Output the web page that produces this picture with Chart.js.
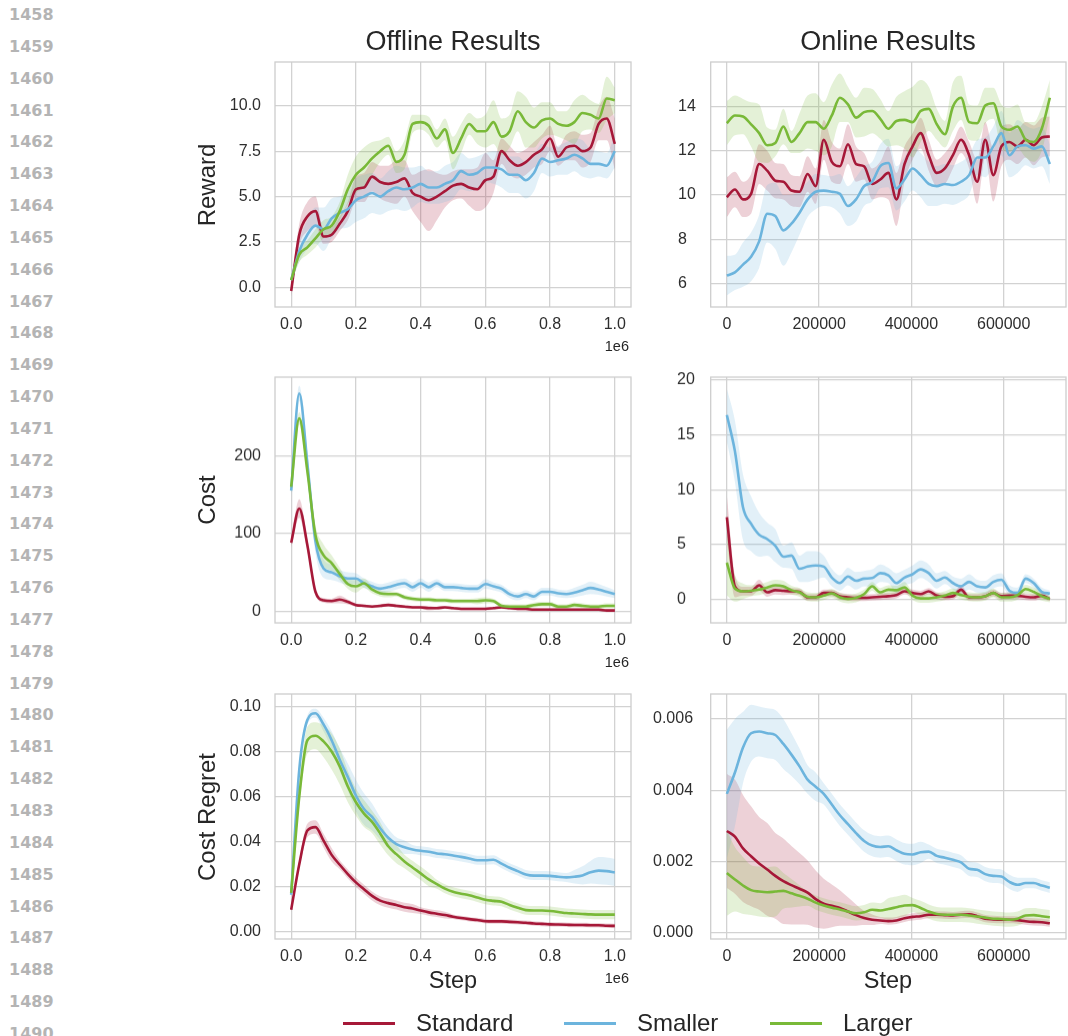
<!DOCTYPE html>
<html><head><meta charset="utf-8">
<script src="https://cdn.jsdelivr.net/npm/chart.js@4.4.1/dist/chart.umd.min.js"></script>
<style>
html,body{margin:0;padding:0;background:#fff;}
body{width:1068px;height:1036px;position:relative;overflow:hidden;font-family:"Liberation Sans",Arial,sans-serif;color:#262626;}
.t{position:absolute;white-space:nowrap;}
.ln{position:absolute;left:9px;font-family:"DejaVu Sans",sans-serif;font-weight:bold;font-size:16px;line-height:16px;color:#b4b4b4;}
canvas{position:absolute;}
</style></head><body>
<script>
// ---------------- DATA ----------------
const seriesNames = ['Standard', 'Smaller', 'Larger'];
const lineNumbers = [1458,1459,1460,1461,1462,1463,1464,1465,1466,1467,1468,1469,1470,1471,1472,1473,1474,1475,1476,1477,1478,1479,1480,1481,1482,1483,1484,1485,1486,1487,1488,1489,1490];

const offlineSteps = [0,25000,50000,75000,100000,125000,150000,175000,200000,225000,
  250000,275000,300000,325000,350000,375000,400000,425000,450000,475000,
  500000,525000,550000,575000,600000,625000,650000,675000,700000,725000,
  750000,775000,800000,825000,850000,875000,900000,925000,950000,975000,1000000];
const onlineSteps = [0,17500,35000,52500,70000,87500,105000,122500,140000,157500,
  175000,192500,210000,227500,245000,262500,280000,297500,315000,332500,
  350000,367500,385000,402500,420000,437500,455000,472500,490000,507500,
  525000,542500,560000,577500,595000,612500,630000,647500,665000,682500,700000];

const offlineXTicks = [0,200000,400000,600000,800000,1000000];
const offlineXTickLabels = ['0.0','0.2','0.4','0.6','0.8','1.0'];
const onlineXTicks = [0,200000,400000,600000];
const onlineXTickLabels = ['0','200000','400000','600000'];

// Offline Reward
const offlineRewardTicks = [0,2.5,5,7.5,10];
const offlineRewardTickLabels = ['0.0','2.5','5.0','7.5','10.0'];
const offlineRewardStandard = [-0.2,2.9,3.9,4.2,2.8,2.9,3.5,4.2,5.4,5.5,
  6.1,5.8,5.7,5.8,6.0,5.2,5.0,4.8,5.0,5.3,
  5.6,5.7,5.5,5.4,5.9,6.1,7.5,7.0,6.7,6.9,
  7.3,7.6,8.2,7.2,7.7,7.8,7.5,7.7,9.0,9.3,7.9];
const offlineRewardStandardCI = [0.3,0.6,0.8,0.8,0.4,0.4,0.4,0.5,0.7,0.8,
  0.8,0.9,1.0,1.2,1.0,1.0,1.4,1.7,1.3,0.9,
  0.8,0.8,1.0,1.2,1.5,0.9,0.7,0.8,0.7,0.7,
  0.7,0.8,0.7,0.5,0.7,0.8,0.9,0.8,0.9,1.2,1.4];
const offlineRewardSmaller = [0.4,2.0,2.9,3.4,3.2,3.8,4.1,4.3,4.8,5.0,
  5.2,5.0,5.3,5.5,5.4,5.5,5.7,5.5,5.5,5.7,
  5.9,6.4,6.2,6.3,6.6,6.6,6.5,6.2,6.2,5.9,
  6.3,7.1,6.9,7.0,7.1,7.3,7.1,6.8,6.8,6.7,7.5];
const offlineRewardSmallerCI = [0.2,0.6,0.8,1.0,1.2,1.1,0.9,1.0,1.2,1.2,
  1.1,1.0,1.1,1.2,1.2,1.1,1.0,0.9,0.9,1.0,
  1.0,1.0,0.9,0.9,0.8,0.9,1.0,1.0,1.0,1.0,
  1.0,0.8,0.8,0.8,0.9,0.9,1.0,0.8,0.7,0.7,0.9];
const offlineRewardLarger = [0.4,1.8,2.2,2.7,3.2,3.4,4.2,5.4,6.2,6.6,
  7.1,7.5,7.8,6.9,7.3,9.0,9.1,8.9,8.2,8.7,
  7.4,8.2,9.0,8.6,8.6,9.1,8.3,8.6,9.7,9.1,
  8.8,9.2,9.3,9.0,8.9,9.1,9.6,9.5,9.3,10.4,10.3];
const offlineRewardLargerCI = [0.2,0.4,0.4,0.5,0.5,0.5,0.5,0.8,1.0,1.1,
  0.9,0.6,0.5,0.6,0.8,0.5,0.4,0.5,0.5,0.6,
  0.9,0.8,0.6,0.7,0.9,1.2,1.0,0.9,1.1,1.4,
  1.1,1.0,0.9,0.7,0.8,1.2,1.0,0.8,0.8,1.2,0.7];

// Online Reward
const onlineRewardTicks = [6,8,10,12,14];
const onlineRewardTickLabels = ['6','8','10','12','14'];
const onlineRewardStandard = [9.9,10.25,9.8,10.05,11.4,11.1,10.65,10.6,10.2,10.15,
  10.95,10.4,12.5,11.5,11.3,12.3,11.4,11.3,10.5,10.7,
  11.0,9.8,11.4,12.2,12.8,11.8,11.0,11.2,11.8,12.5,
  11.8,10.6,12.5,10.9,12.2,12.4,12.2,12.5,12.25,12.6,12.65];
const onlineRewardStandardCI = [0.9,0.8,0.8,0.9,0.9,0.9,0.8,0.8,0.7,0.7,
  0.8,0.8,0.9,0.9,0.8,0.9,0.8,0.6,0.7,0.8,
  1.2,1.2,0.8,0.6,0.7,0.7,0.6,0.7,0.6,0.6,
  0.6,1.0,0.8,1.2,0.9,0.8,0.8,0.8,0.9,0.9,0.9];
const onlineRewardSmaller = [6.35,6.5,6.85,7.2,7.9,9.15,9.05,8.4,8.7,9.2,
  9.8,10.15,10.2,10.15,10.05,9.5,9.8,10.4,10.6,11.3,
  11.45,10.3,10.7,11.2,10.9,10.5,10.4,10.5,10.45,10.6,
  10.9,11.7,11.7,12.2,12.8,11.8,12.2,12.25,12.1,12.2,11.4];
const onlineRewardSmallerCI = [0.9,0.8,1.0,1.1,1.2,1.3,1.5,1.6,1.3,1.0,
  0.8,0.8,0.7,0.7,0.9,0.9,1.0,0.9,0.9,1.0,
  1.1,1.0,1.0,1.0,1.0,1.0,0.9,0.9,0.9,0.9,
  0.9,0.8,0.9,0.9,1.0,1.0,1.2,0.9,0.9,0.9,0.9];
const onlineRewardLarger = [13.25,13.6,13.55,13.2,12.8,12.25,12.35,13.1,12.4,12.8,
  13.3,13.3,13.0,13.6,14.4,14.1,13.5,13.75,13.8,13.45,
  13.0,13.35,13.4,13.3,13.8,13.9,13.2,12.75,14.0,14.4,
  13.3,13.25,14.05,14.15,13.1,12.95,13.1,12.5,12.4,13.0,14.4];
const onlineRewardLargerCI = [1.0,0.9,0.8,1.0,1.3,0.8,0.6,0.8,0.5,0.9,
  1.2,1.3,1.2,1.4,1.1,0.8,0.9,1.1,1.0,0.9,
  0.8,1.1,1.3,1.6,1.4,1.0,0.7,0.6,1.1,1.0,
  0.8,0.8,0.8,0.7,1.0,1.0,1.0,0.8,0.9,1.0,0.8];

// Offline Cost
const offlineCostTicks = [0,100,200];
const offlineCostTickLabels = ['0','100','200'];
const offlineCostStandard = [88,132,85,25,14,13,15,12,8,7,
  6,7,8,7,6,5,5,4,4,5,
  4,3,3,3,3,4,5,4,3,3,
  2,2,2,2,2,2,2,2,2,1,1];
const offlineCostStandardCI = [6,12,8,4,3,3,5,3,2,2,
  2,2,2,2,2,2,2,3,2,2,
  2,2,2,2,2,2,2,2,2,2,
  2,2,2,2,2,2,2,2,2,2,2];
const offlineCostSmaller = [155,280,190,90,55,50,45,42,42,36,
  32,29,31,34,36,31,36,31,36,31,
  31,30,29,29,35,32,29,22,19,22,
  19,25,25,23,22,24,27,30,28,25,22];
const offlineCostSmallerCI = [15,10,15,15,12,10,8,8,7,6,
  6,6,6,6,6,6,6,6,5,5,
  5,5,5,5,6,5,5,5,5,5,
  5,5,5,5,5,6,7,8,7,6,5];
const offlineCostLarger = [160,248,180,98,72,62,48,35,32,36,
  28,23,22,22,18,16,15,15,14,14,
  13,13,13,13,14,13,7,6,6,6,
  8,9,9,6,6,8,7,6,6,7,7];
const offlineCostLargerCI = [8,8,10,12,14,10,8,6,8,6,
  5,4,4,3,3,3,3,3,3,3,
  3,3,3,4,4,3,3,3,3,3,
  3,3,3,3,3,3,3,3,3,3,3];

// Online Cost
const onlineCostTicks = [0,5,10,15,20];
const onlineCostTickLabels = ['0','5','10','15','20'];
const onlineCostStandard = [7.5,1.2,0.75,0.75,1.3,0.65,0.85,0.8,0.75,0.7,
  0.2,0.2,0.6,0.6,0.3,0.2,0.15,0.15,0.2,0.25,
  0.3,0.4,0.75,0.6,0.5,0.75,0.35,0.25,0.3,0.9,
  0.2,0.2,0.3,0.6,0.3,0.35,0.35,0.25,0.2,0.35,0.05];
const onlineCostStandardCI = [2.0,1.0,0.4,0.4,0.5,0.4,0.4,0.4,0.3,0.3,
  0.3,0.3,0.3,0.3,0.3,0.3,0.3,0.3,0.3,0.3,
  0.3,0.3,0.3,0.3,0.3,0.3,0.3,0.3,0.3,0.4,
  0.3,0.3,0.3,0.3,0.3,0.3,0.3,0.3,0.3,0.3,0.2];
const onlineCostSmaller = [16.8,13.5,8.4,6.9,5.9,5.5,4.9,3.9,4.0,2.8,
  3.0,3.1,3.0,2.0,1.5,2.1,1.7,1.9,1.95,2.4,
  2.2,1.5,2.0,2.3,2.75,2.4,1.7,2.0,1.5,1.2,
  1.6,1.2,1.1,1.6,1.8,0.8,0.6,1.9,1.5,0.7,0.55];
const onlineCostSmallerCI = [2.4,2.8,3.0,2.5,2.0,1.5,1.5,1.0,1.2,1.2,
  1.4,1.3,1.0,0.8,0.7,0.8,0.8,0.7,0.8,0.8,
  0.7,0.9,0.7,0.8,0.8,0.8,0.7,0.6,0.6,0.7,
  0.7,0.6,0.6,0.6,0.6,0.5,0.5,0.4,0.4,0.4,0.3];
const onlineCostLarger = [3.35,1.0,0.75,0.8,0.9,1.1,1.3,1.2,0.85,0.65,
  0.25,0.2,0.35,0.55,0.2,0.05,0.15,0.5,1.2,0.65,
  0.9,0.85,1.1,0.35,0.1,0.1,0.2,0.35,0.6,0.4,
  0.25,0.2,0.3,0.6,0.2,0.2,0.4,0.95,0.7,0.3,0.05];
const onlineCostLargerCI = [3.0,1.2,0.7,0.5,0.5,0.5,0.5,0.5,0.4,0.4,
  0.4,0.4,0.4,0.4,0.4,0.4,0.4,0.4,0.4,0.4,
  0.4,0.4,0.5,0.4,0.4,0.4,0.4,0.4,0.4,0.4,
  0.4,0.4,0.4,0.4,0.4,0.4,0.4,0.4,0.4,0.4,0.3];

// Offline Cost Regret
const offlineRegretTicks = [0,0.02,0.04,0.06,0.08,0.10];
const offlineRegretTickLabels = ['0.00','0.02','0.04','0.06','0.08','0.10'];
const offlineRegretStandard = [0.0099,0.030,0.045,0.0465,0.0405,0.0342,0.0298,0.0257,0.022,0.019,
  0.016,0.0139,0.0128,0.012,0.011,0.0104,0.0095,0.0087,0.0081,0.0075,
  0.0068,0.0062,0.0057,0.0053,0.0048,0.0047,0.0047,0.0045,0.0043,0.0041,
  0.0038,0.0036,0.0034,0.0033,0.0032,0.0031,0.0031,0.003,0.003,0.0028,0.0027];
const offlineRegretStandardCI = [0.001,0.002,0.003,0.003,0.003,0.003,0.002,0.002,0.002,0.002,
  0.002,0.002,0.002,0.002,0.002,0.002,0.0015,0.0015,0.0015,0.0015,
  0.001,0.001,0.001,0.001,0.001,0.001,0.001,0.001,0.001,0.001,
  0.001,0.001,0.001,0.001,0.001,0.001,0.001,0.001,0.001,0.001,0.001];
const offlineRegretSmaller = [0.0165,0.072,0.094,0.097,0.092,0.085,0.0764,0.0687,0.0605,0.0545,
  0.051,0.046,0.0418,0.039,0.0376,0.0366,0.036,0.0356,0.0348,0.0345,
  0.0339,0.0333,0.0326,0.0318,0.0318,0.032,0.0303,0.0285,0.027,0.0255,
  0.025,0.025,0.0249,0.0245,0.0242,0.0245,0.0251,0.0265,0.0272,0.027,0.0264];
const offlineRegretSmallerCI = [0.001,0.002,0.002,0.002,0.003,0.004,0.005,0.006,0.007,0.007,
  0.006,0.005,0.004,0.003,0.003,0.002,0.002,0.002,0.002,0.002,
  0.002,0.002,0.002,0.002,0.002,0.002,0.002,0.002,0.002,0.002,
  0.002,0.002,0.002,0.002,0.002,0.003,0.004,0.005,0.006,0.006,0.006];
const offlineRegretLarger = [0.0173,0.060,0.085,0.087,0.0845,0.080,0.0734,0.0645,0.0575,0.0525,
  0.0488,0.0437,0.038,0.0345,0.0313,0.0286,0.026,0.0233,0.0212,0.0192,
  0.0178,0.017,0.0163,0.0153,0.0143,0.0138,0.0134,0.012,0.0108,0.0097,
  0.0095,0.0095,0.0093,0.0089,0.0084,0.0082,0.008,0.0078,0.0077,0.0077,0.0077];
const offlineRegretLargerCI = [0.001,0.004,0.006,0.006,0.007,0.008,0.008,0.007,0.006,0.006,
  0.005,0.005,0.004,0.004,0.003,0.003,0.003,0.003,0.002,0.002,
  0.002,0.002,0.002,0.002,0.002,0.002,0.002,0.002,0.002,0.002,
  0.002,0.002,0.002,0.002,0.002,0.002,0.002,0.002,0.002,0.002,0.002];

// Online Cost Regret
const onlineRegretTicks = [0,0.002,0.004,0.006];
const onlineRegretTickLabels = ['0.000','0.002','0.004','0.006'];
const onlineRegretStandard = [0.00286,0.0027,0.00237,0.00215,0.00195,0.00178,0.0016,0.00145,0.00134,0.00124,
  0.00113,0.00095,0.00082,0.00076,0.0007,0.0006,0.0005,0.00042,0.00037,0.00035,
  0.00033,0.00035,0.00041,0.00045,0.00047,0.00051,0.00051,0.0005,0.00049,0.00051,
  0.00052,0.00047,0.0004,0.00038,0.00037,0.00037,0.00036,0.00033,0.00031,0.0003,0.00027];
const onlineRegretStandardCI = [0.0016,0.0016,0.0015,0.0014,0.0013,0.0013,0.0012,0.0012,0.0011,0.001,
  0.0009,0.0008,0.0007,0.0006,0.0005,0.0004,0.0003,0.0002,0.00015,0.0001,
  0.0001,0.0001,0.0001,0.0001,0.0001,0.0001,0.0001,0.0001,0.0001,0.0001,
  0.0001,0.0001,0.0001,0.0001,0.0001,0.0001,0.0001,0.0001,0.0001,0.0001,0.0001];
const onlineRegretSmaller = [0.0039,0.0045,0.0052,0.0056,0.00565,0.0056,0.00555,0.0053,0.005,0.00467,
  0.0043,0.0041,0.0039,0.0036,0.0033,0.00305,0.0028,0.00258,0.00245,0.00241,
  0.00243,0.00232,0.00222,0.0022,0.00226,0.00228,0.00216,0.00211,0.00205,0.00198,
  0.0018,0.00177,0.00165,0.0016,0.00158,0.00143,0.00135,0.0014,0.0014,0.00133,0.00127];
const onlineRegretSmallerCI = [0.0018,0.0015,0.001,0.0008,0.0007,0.0007,0.0007,0.0007,0.0006,0.0005,
  0.0004,0.0004,0.0003,0.0003,0.0003,0.0003,0.0003,0.0003,0.0003,0.0003,
  0.0003,0.0003,0.0003,0.0003,0.0003,0.0002,0.0002,0.0002,0.0002,0.0002,
  0.0002,0.0002,0.0002,0.0002,0.0002,0.0002,0.0002,0.00015,0.00015,0.00015,0.00015];
const onlineRegretLarger = [0.00168,0.0015,0.00133,0.0012,0.00116,0.00114,0.00116,0.00118,0.00111,0.00104,
  0.00096,0.00085,0.00077,0.00071,0.00066,0.0006,0.00055,0.00058,0.00065,0.00063,
  0.00067,0.00072,0.00077,0.00078,0.0007,0.0006,0.00053,0.00051,0.00051,0.00051,
  0.00049,0.00046,0.00043,0.0004,0.00039,0.00037,0.0004,0.00049,0.0005,0.00047,0.00044];
const onlineRegretLargerCI = [0.0012,0.0009,0.0008,0.0007,0.0007,0.0007,0.0007,0.0005,0.0004,0.0003,
  0.0002,0.0002,0.0002,0.0002,0.0002,0.0002,0.0002,0.0002,0.0002,0.0002,
  0.0003,0.0003,0.0003,0.0002,0.0002,0.0002,0.0002,0.0002,0.0002,0.0002,
  0.0002,0.0002,0.0002,0.0002,0.0002,0.0002,0.0002,0.0002,0.0002,0.0002,0.0002];

// ---------------- STYLE ----------------
const lineColors = ['rgb(166,24,56)', 'rgb(108,180,221)', 'rgb(121,185,56)'];
const bandColors = ['rgba(166,24,56,0.2)', 'rgba(108,180,221,0.2)', 'rgba(121,185,56,0.2)'];
const GRID = '#d2d2d2';
const TICKC = '#2e2e2e';
const FONT = '"Liberation Sans", Arial, sans-serif';

const framePlugin = {
  id: 'frame',
  afterDraw(c) {
    const a = c.chartArea, x = c.ctx;
    x.save(); x.strokeStyle = '#cdcdcd'; x.lineWidth = 1.3;
    x.strokeRect(a.left, a.top, a.right - a.left, a.bottom - a.top);
    x.restore();
  }
};

function addText(txt, css) {
  const d = document.createElement('div');
  d.className = 't'; d.textContent = txt;
  Object.assign(d.style, css);
  document.body.appendChild(d);
  return d;
}

function makePanel(p) {
  const cv = document.createElement('canvas');
  cv.width = p.w; cv.height = p.h;
  cv.style.left = p.left + 'px'; cv.style.top = p.top + 'px';
  cv.style.width = p.w + 'px'; cv.style.height = p.h + 'px';
  document.body.appendChild(cv);
  const datasets = [];
  p.means.forEach((m, i) => {
    const ci = p.cis[i];
    datasets.push({ data: p.steps.map((x, j) => ({ x: x, y: m[j] - ci[j] })), borderWidth: 0, pointRadius: 0,
      fill: false, cubicInterpolationMode: 'monotone', borderColor: 'rgba(0,0,0,0)', order: 30 - 2 * i });
    datasets.push({ data: p.steps.map((x, j) => ({ x: x, y: m[j] + ci[j] })), borderWidth: 0, pointRadius: 0,
      fill: '-1', backgroundColor: bandColors[i], borderColor: 'rgba(0,0,0,0)', cubicInterpolationMode: 'monotone', order: 29 - 2 * i });
  });
  p.means.forEach((m, i) => {
    datasets.push({ label: seriesNames[i], data: p.steps.map((x, j) => ({ x: x, y: m[j] })), borderColor: lineColors[i],
      borderWidth: 2.6, pointRadius: 0, fill: false, cubicInterpolationMode: 'monotone', order: 3 - i });
  });
  new Chart(cv, {
    type: 'line',
    data: { datasets },
    plugins: [framePlugin],
    options: {
      responsive: false, animation: false, devicePixelRatio: 1, events: [],
      layout: { padding: { top: p.padTop, right: p.padRight, left: p.padLeft, bottom: 0 } },
      plugins: { legend: { display: false }, tooltip: { enabled: false }, title: { display: false } },
      scales: {
        x: {
          type: 'linear', min: p.xMin, max: p.xMax,
          afterBuildTicks: s => { s.ticks = p.xTicks.map(v => ({ value: v })); },
          afterFit: s => { s.height = p.xAxisH; },
          ticks: { callback: (v, i) => p.xLabels[i], color: TICKC, font: { family: FONT, size: 16 }, padding: 8, maxRotation: 0, autoSkip: false },
          grid: { color: GRID, lineWidth: 1.3, drawTicks: false },
          border: { display: false }
        },
        y: {
          type: 'linear', min: p.yMin, max: p.yMax,
          afterBuildTicks: s => { s.ticks = p.yTicks.map(v => ({ value: v })); },
          afterFit: s => { s.width = p.yAxisW; },
          ticks: { callback: (v, i) => p.yLabels[i], color: TICKC, font: { family: FONT, size: 16 }, padding: 14, crossAlign: p.crossAlign, autoSkip: false },
          grid: { color: GRID, lineWidth: 1.3, drawTicks: false },
          border: { display: false }
        }
      }
    }
  });
}

// ---------------- LAYOUT ----------------
const rows = [ { top: 62, bottom: 307 }, { top: 377.3, bottom: 622.7 }, { top: 694.3, bottom: 939.3 } ];
const leftPlot = { l: 275, r: 631 };
const rightPlot = { l: 710.7, r: 1066 };
const PADTOP = 28;

const leftPanels = [
  { means: [offlineRewardStandard, offlineRewardSmaller, offlineRewardLarger], cis: [offlineRewardStandardCI, offlineRewardSmallerCI, offlineRewardLargerCI],
    yMin: -1.08, yMax: 12.41, yTicks: offlineRewardTicks, yLabels: offlineRewardTickLabels },
  { means: [offlineCostStandard, offlineCostSmaller, offlineCostLarger], cis: [offlineCostStandardCI, offlineCostSmallerCI, offlineCostLargerCI],
    yMin: -15, yMax: 301, yTicks: offlineCostTicks, yLabels: offlineCostTickLabels },
  { means: [offlineRegretStandard, offlineRegretSmaller, offlineRegretLarger], cis: [offlineRegretStandardCI, offlineRegretSmallerCI, offlineRegretLargerCI],
    yMin: -0.0031, yMax: 0.1055, yTicks: offlineRegretTicks, yLabels: offlineRegretTickLabels }
];
const rightPanels = [
  { means: [onlineRewardStandard, onlineRewardSmaller, onlineRewardLarger], cis: [onlineRewardStandardCI, onlineRewardSmallerCI, onlineRewardLargerCI],
    yMin: 4.93, yMax: 16.02, yTicks: onlineRewardTicks, yLabels: onlineRewardTickLabels, labelLeft: 678 },
  { means: [onlineCostStandard, onlineCostSmaller, onlineCostLarger], cis: [onlineCostStandardCI, onlineCostSmallerCI, onlineCostLargerCI],
    yMin: -2.13, yMax: 20.25, yTicks: onlineCostTicks, yLabels: onlineCostTickLabels, labelLeft: 677 },
  { means: [onlineRegretStandard, onlineRegretSmaller, onlineRegretLarger], cis: [onlineRegretStandardCI, onlineRegretSmallerCI, onlineRegretLargerCI],
    yMin: -0.00017, yMax: 0.0067, yTicks: onlineRegretTicks, yLabels: onlineRegretTickLabels, labelLeft: 653 }
];

rows.forEach((r, k) => {
  const top = r.top - PADTOP, h = r.bottom - r.top + PADTOP + 38;
  const lp = leftPanels[k];
  makePanel(Object.assign({}, lp, {
    steps: offlineSteps, left: 180, top: top, w: 470, h: h, padTop: PADTOP, padRight: 650 - leftPlot.r, padLeft: 0,
    yAxisW: leftPlot.l - 180, xAxisH: 38, crossAlign: 'near',
    xMin: -50000, xMax: 1050000, xTicks: offlineXTicks, xLabels: offlineXTickLabels
  }));
  const rp = rightPanels[k];
  makePanel(Object.assign({}, rp, {
    steps: onlineSteps, left: 645, top: top, w: 423, h: h, padTop: PADTOP, padRight: 1068 - rightPlot.r, padLeft: rp.labelLeft - 645,
    yAxisW: rightPlot.l - rp.labelLeft, xAxisH: 38, crossAlign: 'far',
    xMin: -35000, xMax: 735000, xTicks: onlineXTicks, xLabels: onlineXTickLabels
  }));
});

// ---------------- TEXT ----------------
lineNumbers.forEach((n, i) => {
  const d = document.createElement('div');
  d.className = 'ln'; d.textContent = String(n);
  d.style.top = (15 + 31.84 * i - 8) + 'px';
  document.body.appendChild(d);
});

addText('Offline Results', { left: '453px', top: '28px', fontSize: '27px', lineHeight: '27px', transform: 'translateX(-50%)' });
addText('Online Results', { left: '888px', top: '28px', fontSize: '27px', lineHeight: '27px', transform: 'translateX(-50%)' });
addText('Step', { left: '453px', top: '969px', fontSize: '23.5px', lineHeight: '23.5px', transform: 'translateX(-50%)' });
addText('Step', { left: '888px', top: '969px', fontSize: '23.5px', lineHeight: '23.5px', transform: 'translateX(-50%)' });

const yTitles = ['Reward', 'Cost', 'Cost Regret'];
yTitles.forEach((t, k) => {
  const cy = (rows[k].top + rows[k].bottom) / 2;
  addText(t, { left: '207px', top: cy + 'px', fontSize: '24px', lineHeight: '24px', transform: 'translate(-50%,-50%) rotate(-90deg)' });
});
rows.forEach(r => {
  addText('1e6', { right: (1068 - 629) + 'px', top: (r.bottom + 44 - 12) + 'px', fontSize: '14.5px', lineHeight: '14.5px' });
});

// legend
const legendLines = [343, 564, 770];
seriesNames.forEach((n, i) => {
  const sw = document.createElement('div');
  Object.assign(sw.style, { position: 'absolute', left: legendLines[i] + 'px', top: '1022px', width: '52px', height: '3px', background: lineColors[i] });
  document.body.appendChild(sw);
  addText(n, { left: (legendLines[i] + 73) + 'px', top: '1011px', fontSize: '24px', lineHeight: '24px' });
});
</script>
</body></html>
